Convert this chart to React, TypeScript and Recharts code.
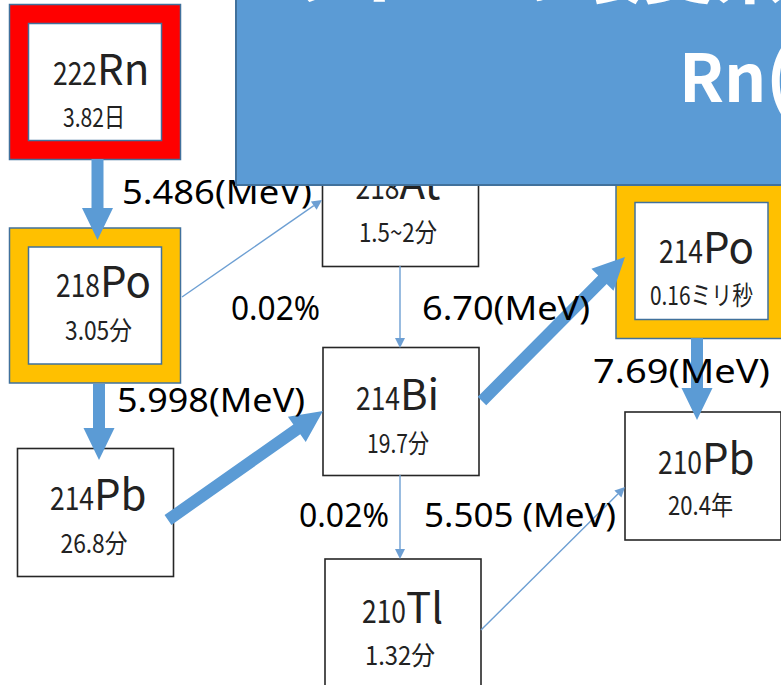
import React from 'react';
import { ScatterChart, Scatter, XAxis, YAxis } from 'recharts';

// ---------------- DATA ----------------
// Nuclides of the Rn-222 decay chain (node centre in diagram coordinates)
const nuclides = [
  { id: 'Rn222', mass: '222', symbol: 'Rn', halfLife: '3.82日', x: 95, y: 82 },
  { id: 'Po218', mass: '218', symbol: 'Po', halfLife: '3.05分', x: 95, y: 305.5 },
  { id: 'At218', mass: '218', symbol: 'At', halfLife: '1.5~2分', x: 400.5, y: 202.5 },
  { id: 'Pb214', mass: '214', symbol: 'Pb', halfLife: '26.8分', x: 95.5, y: 512.5 },
  { id: 'Bi214', mass: '214', symbol: 'Bi', halfLife: '19.7分', x: 401, y: 411.5 },
  { id: 'Po214', mass: '214', symbol: 'Po', halfLife: '0.16ミリ秒', x: 701.5, y: 261 },
  { id: 'Tl210', mass: '210', symbol: 'Tl', halfLife: '1.32分', x: 403, y: 623 },
  { id: 'Pb210', mass: '210', symbol: 'Pb', halfLife: '20.4年', x: 703, y: 476 },
];

// Main decay path (thick arrows): start and end in diagram coordinates
const mainDecays = [
  { from: 'Rn222', to: 'Po218', x1: 97.5, y1: 159, x2: 97.5, y2: 240 },
  { from: 'Po218', to: 'Pb214', x1: 99, y1: 384, x2: 99, y2: 460 },
  { from: 'Pb214', to: 'Bi214', x1: 168, y1: 520, x2: 323, y2: 411 },
  { from: 'Bi214', to: 'Po214', x1: 482, y1: 401, x2: 625, y2: 257 },
  { from: 'Po214', to: 'Pb210', x1: 697, y1: 338, x2: 697, y2: 420 },
];

// Minor branches (thin arrows)
const branchDecays = [
  { from: 'Po218', to: 'At218', x1: 182, y1: 297, x2: 322, y2: 200 },
  { from: 'At218', to: 'Bi214', x1: 400, y1: 266, x2: 400, y2: 348 },
  { from: 'Bi214', to: 'Tl210', x1: 400, y1: 475, x2: 400, y2: 559 },
  { from: 'Tl210', to: 'Pb210', x1: 481, y1: 630, x2: 625, y2: 487 },
];

// Energy / branching labels (left edge, baseline)
const energyLabels = [
  { text: '5.486(MeV)', x: 122, y: 204 },
  { text: '0.02%', x: 231, y: 320 },
  { text: '5.998(MeV)', x: 117, y: 412 },
  { text: '6.70(MeV)', x: 422, y: 320 },
  { text: '7.69(MeV)', x: 593, y: 383 },
  { text: '0.02%', x: 299, y: 527 },
  { text: '5.505 (MeV)', x: 424, y: 527 },
];

// Title banner corners and title lines
const bannerCorners = [
  { x: 236, y: -6 },
  { x: 800, y: 185 },
];
const titleLines = [
  { text: 'ラドンの壊変系列とその', x: 282, y: -3 },
  { text: 'Rn(ラドン)', x: 679, y: 102 },
];

// ---------------- STYLES ----------------
const W = 781;
const H = 685;
const BLUE = '#5b9bd5';
const BLUE_DARK = '#41719c';
const BOX_FONT = '"Noto Sans CJK JP", "Noto Sans", sans-serif';
const LABEL_FONT = '"Noto Sans", "DejaVu Sans", sans-serif';

const FRAMES: Record<string, string> = { Rn222: '#ff0000', Po218: '#ffc000', Po214: '#ffc000' };
// split: x offset where mass number ends; mainDy/subDy: baseline offsets; subDx: centre offset; subW: width
const NODE_TEXT: Record<string, { split: number; mainDy: number; subDx: number; subDy: number; subW: number }> = {
  Rn222: { split: 2, mainDy: 3, subDx: -1, subDy: 45, subW: 62 },
  Po218: { split: 5, mainDy: -8.5, subDx: 3.5, subDy: 34.5, subW: 67 },
  At218: { split: -1, mainDy: -3.5, subDx: -2.5, subDy: 39.5, subW: 78 },
  Pb214: { split: -1.5, mainDy: -2.5, subDx: -1.5, subDy: 40.5, subW: 67 },
  Bi214: { split: -1, mainDy: -1.5, subDx: -3, subDy: 41.5, subW: 62 },
  Po214: { split: 1.5, mainDy: 2, subDx: 0, subDy: 44, subW: 103 },
  Tl210: { split: 3, mainDy: 0, subDx: -3, subDy: 42, subW: 70 },
  Pb210: { split: -1, mainDy: -2, subDx: -2.5, subDy: 39, subW: 65 },
};
const LABEL_WIDTH = [190, 89, 188, 168, 177, 90, 192];
const TITLE_SIZE = [72, 66];

function arrowPoints(x1: number, y1: number, x2: number, y2: number, shaft: number, headW: number, headL: number) {
  const dx = x2 - x1;
  const dy = y2 - y1;
  const len = Math.hypot(dx, dy) || 1;
  const ux = dx / len;
  const uy = dy / len;
  const px = -uy;
  const py = ux;
  const bx = x2 - ux * headL;
  const by = y2 - uy * headL;
  const pts = [
    [x1 + (px * shaft) / 2, y1 + (py * shaft) / 2],
    [bx + (px * shaft) / 2, by + (py * shaft) / 2],
    [bx + (px * headW) / 2, by + (py * headW) / 2],
    [x2, y2],
    [bx - (px * headW) / 2, by - (py * headW) / 2],
    [bx - (px * shaft) / 2, by - (py * shaft) / 2],
    [x1 - (px * shaft) / 2, y1 - (py * shaft) / 2],
  ];
  return pts.map((p) => `${p[0]},${p[1]}`).join(' ');
}

const Empty = () => <g />;

const thickArrow = (props: any) => {
  const pts = props.points;
  if (!pts || pts.length < 2) return <g />;
  const [a, b] = pts;
  return <polygon points={arrowPoints(a.x, a.y, b.x, b.y, 12, 31, 32)} fill={BLUE} stroke="none" />;
};

const thinArrow = (props: any) => {
  const pts = props.points;
  if (!pts || pts.length < 2) return <g />;
  const [a, b] = pts;
  const len = Math.hypot(b.x - a.x, b.y - a.y) || 1;
  const ux = (b.x - a.x) / len;
  const uy = (b.y - a.y) / len;
  const ex = b.x - ux * 10;
  const ey = b.y - uy * 10;
  return (
    <g>
      <line x1={a.x} y1={a.y} x2={ex} y2={ey} stroke="#6d9fd3" strokeWidth={1.4} />
      <polygon points={arrowPoints(ex, ey, b.x, b.y, 0, 10, 10)} fill="#6d9fd3" />
    </g>
  );
};

const bannerRect = (props: any) => {
  const pts = props.points;
  if (!pts || pts.length < 2) return <g />;
  const [a, b] = pts;
  return (
    <rect
      x={Math.min(a.x, b.x)}
      y={Math.min(a.y, b.y)}
      width={Math.abs(b.x - a.x)}
      height={Math.abs(b.y - a.y)}
      fill={BLUE}
      stroke={BLUE_DARK}
      strokeWidth={2}
    />
  );
};

const NuclideBox = (props: any) => {
  const { cx, cy, payload } = props;
  if (cx == null || cy == null) return <g />;
  const frame = FRAMES[payload.id];
  const t = NODE_TEXT[payload.id];
  const w = frame ? 171 : 156;
  const h = frame ? 155 : 128;
  const b = 19;
  const x0 = cx - w / 2;
  const y0 = cy - h / 2;
  const splitX = cx + t.split;
  return (
    <g>
      {frame ? (
        <g>
          <rect x={x0} y={y0} width={w} height={h} fill={frame} stroke={BLUE_DARK} strokeWidth={1.5} />
          <rect x={x0 + b} y={y0 + b} width={w - 2 * b} height={h - 2 * b} fill="#ffffff" stroke={BLUE_DARK} strokeWidth={1.5} />
        </g>
      ) : (
        <rect x={x0} y={y0} width={w} height={h} fill="#ffffff" stroke="#262626" strokeWidth={1.6} />
      )}
      <text
        x={splitX - 44}
        y={cy + t.mainDy}
        fontFamily={BOX_FONT}
        fontSize={32}
        textLength={44}
        lengthAdjust="spacingAndGlyphs"
        fill="#222"
      >
        {payload.mass}
      </text>
      <text x={splitX} y={cy + t.mainDy} fontFamily={BOX_FONT} fontSize={42} fill="#222">
        {payload.symbol}
      </text>
      <text
        x={cx + t.subDx - t.subW / 2}
        y={cy + t.subDy}
        fontFamily={BOX_FONT}
        fontSize={26}
        textLength={t.subW}
        lengthAdjust="spacingAndGlyphs"
        fill="#222"
      >
        {payload.halfLife}
      </text>
    </g>
  );
};

const EnergyLabel = (props: any) => {
  const { cx, cy, payload, index } = props;
  if (cx == null || cy == null) return <g />;
  const idx = energyLabels.indexOf(payload) >= 0 ? energyLabels.indexOf(payload) : index;
  return (
    <text
      x={cx}
      y={cy}
      fontFamily={LABEL_FONT}
      fontSize={32}
      textLength={LABEL_WIDTH[idx]}
      lengthAdjust="spacingAndGlyphs"
      fill="#000"
    >
      {payload.text}
    </text>
  );
};

const TitleText = (props: any) => {
  const { cx, cy, payload, index } = props;
  if (cx == null || cy == null) return <g />;
  const idx = titleLines.indexOf(payload) >= 0 ? titleLines.indexOf(payload) : index;
  return (
    <text x={cx} y={cy} fontFamily={BOX_FONT} fontWeight={700} fontSize={TITLE_SIZE[idx] || 70} fill="#ffffff">
      {payload.text}
    </text>
  );
};

export default function App() {
  return (
    <div style={{ position: 'absolute', left: 0, top: 0, width: W, height: H, background: '#ffffff' }}>
      <ScatterChart width={W} height={H} margin={{ top: 0, right: 0, bottom: 0, left: 0 }}>
        <XAxis type="number" dataKey="x" domain={[0, W]} allowDataOverflow hide />
        <YAxis type="number" dataKey="y" domain={[0, H]} allowDataOverflow reversed hide />

        <Scatter data={nuclides} shape={NuclideBox} isAnimationActive={false} />

        {branchDecays.map((d, i) => (
          <Scatter
            key={`branch-${i}`}
            data={[
              { x: d.x1, y: d.y1 },
              { x: d.x2, y: d.y2 },
            ]}
            line={thinArrow}
            shape={Empty}
            isAnimationActive={false}
          />
        ))}

        {mainDecays.map((d, i) => (
          <Scatter
            key={`main-${i}`}
            data={[
              { x: d.x1, y: d.y1 },
              { x: d.x2, y: d.y2 },
            ]}
            line={thickArrow}
            shape={Empty}
            isAnimationActive={false}
          />
        ))}

        <Scatter data={energyLabels} shape={EnergyLabel} isAnimationActive={false} />

        <Scatter data={bannerCorners} line={bannerRect} shape={Empty} isAnimationActive={false} />
        <Scatter data={titleLines} shape={TitleText} isAnimationActive={false} />
      </ScatterChart>
    </div>
  );
}
